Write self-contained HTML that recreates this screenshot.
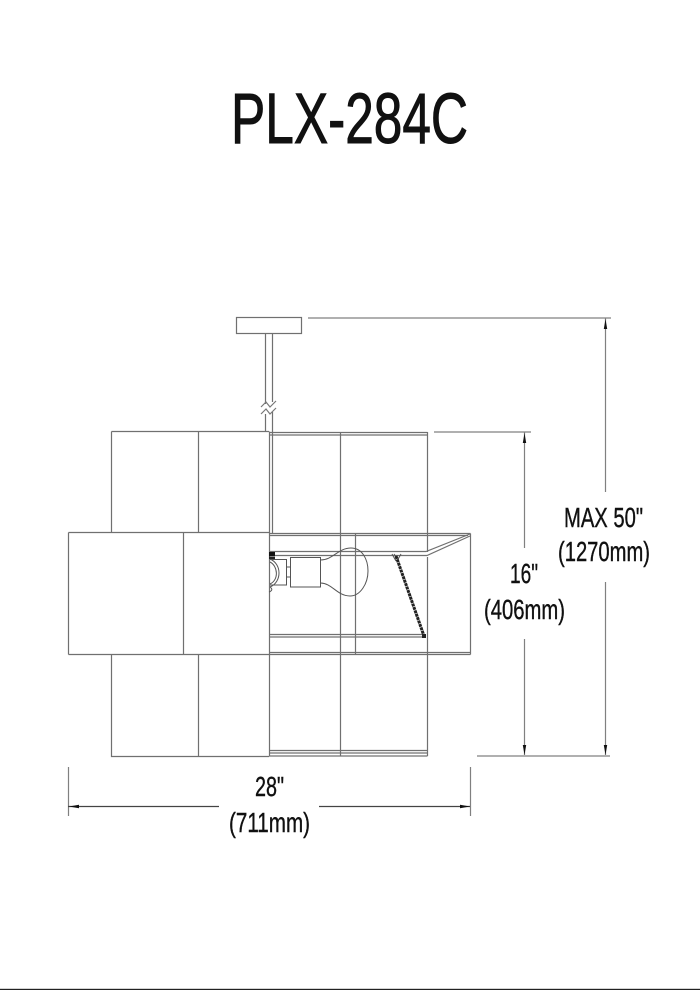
<!DOCTYPE html>
<html>
<head>
<meta charset="utf-8">
<style>
html,body{margin:0;padding:0;background:#fff;width:700px;height:990px;overflow:hidden}
svg{display:block}
text{font-family:"Liberation Sans",sans-serif;fill:#111;stroke:#111}
</style>
</head>
<body>
<svg width="700" height="990" viewBox="0 0 700 990" xmlns="http://www.w3.org/2000/svg">
<rect width="700" height="990" fill="#fff"/>
<text x="231" y="143" font-size="71" stroke-width="1" textLength="237" lengthAdjust="spacingAndGlyphs">PLX-284C</text>

<g fill="none" stroke="#707070" stroke-width="1.2">
<!-- ceiling plate and stem -->
<rect x="236.5" y="317.5" width="65" height="16"/>
<path d="M265.5 333V404M265.5 414V431M272.5 333V402M272.5 412V533"/>
<path d="M261 407L266 402L270 407L276 401M261 414L266 409L270 414L276 408" stroke="#777"/>
<!-- top tier -->
<path d="M111.5 431.5H269M111.5 431.5V532M198.5 431.5V532M269.5 431.5V532M340.5 432V532M427.5 432V532"/>
<path d="M269 432.5H427.5M269 435H427.5"/>
<!-- middle tier -->
<path d="M68.5 532.5H269M68.5 532.5V654.5M68.5 654.5H269M183.5 532.5V654.5M269.5 532V657"/>
<path d="M269 533.5H470.5M269 535.5H468"/>
<path d="M470.5 533.5V654.5M355.5 533.5V654.5M340.5 532V657M427.5 532V552M427.5 557V657"/>
<path d="M269 551.5H426L470 534M269 555.5H427L470 536"/>
<path d="M269 634.5H425M269 637H425M269 652.5H470.5M269 654.5H470.5"/>
<!-- bottom tier -->
<path d="M111.5 654V756.5H269M198.5 654V756.5M269.5 657V756.5M340.5 657V756M427.5 657V756"/>
<path d="M269 750.5H427.5M269 753H427.5M269 756H427.5"/>
</g>

<!-- lamp -->
<g fill="none" stroke="#555" stroke-width="1">
<rect x="290.5" y="557.5" width="30" height="29.5"/>
<path d="M320.5 560C333 560 338 548 351 548C362 548 368 559 368 571C368 584 360 596 350 596C337 596 332 583 320.5 583"/>
<path d="M270 559.5H286.5V585H270M286.5 567H290.5M286.5 577H290.5"/>
<path d="M270 562C278 566 279 580 270 584M270 559C282 564 282 582 270 587M270 587C273 589 272 591 269 592"/>
<path d="M392 554L396 561M401 554L397 561M394 554L397 558"/>
</g>
<rect x="269" y="552" width="6" height="4.5" fill="#111"/>
<rect x="269" y="557" width="6" height="2" fill="#222"/>
<path d="M396 556L424 636" stroke="#222" stroke-width="3" stroke-dasharray="3 0.6" fill="none"/>
<rect x="422" y="634" width="4" height="4" fill="#222"/>

<!-- dimensions -->
<g fill="none" stroke="#808080" stroke-width="1.2">
<path d="M308 318H611M434 432H531M477 756H610"/>
<path d="M605.5 318V492M605.5 582V755M524.5 432V548M524.5 639V755"/>
<path d="M68.5 767V816M470.5 767V816"/>
<path d="M68 806.5H219M319 806.5H470" stroke="#444"/>
</g>
<g fill="#111">
<path d="M605.5 319L603.8 329H607.2Z"/>
<path d="M605.5 755L603.8 745H607.2Z"/>
<path d="M524.5 433L522.8 443H526.2Z"/>
<path d="M524.5 755L522.8 745H526.2Z"/>
<path d="M69 806.5L79 804.8V808.2Z"/>
<path d="M470 806.5L460 804.8V808.2Z"/>
</g>

<g font-size="28" stroke-width="0.4">
<text x="564" y="527" textLength="79" lengthAdjust="spacingAndGlyphs">MAX 50"</text>
<text x="558" y="561" textLength="92" lengthAdjust="spacingAndGlyphs">(1270mm)</text>
<text x="510" y="583" textLength="28" lengthAdjust="spacingAndGlyphs">16"</text>
<text x="484" y="619" textLength="81" lengthAdjust="spacingAndGlyphs">(406mm)</text>
<text x="255" y="796" textLength="29" lengthAdjust="spacingAndGlyphs">28"</text>
<text x="229" y="832" textLength="81" lengthAdjust="spacingAndGlyphs">(711mm)</text>
</g>

<rect x="0" y="988.8" width="700" height="1.2" fill="#222"/>
</svg>
</body>
</html>
